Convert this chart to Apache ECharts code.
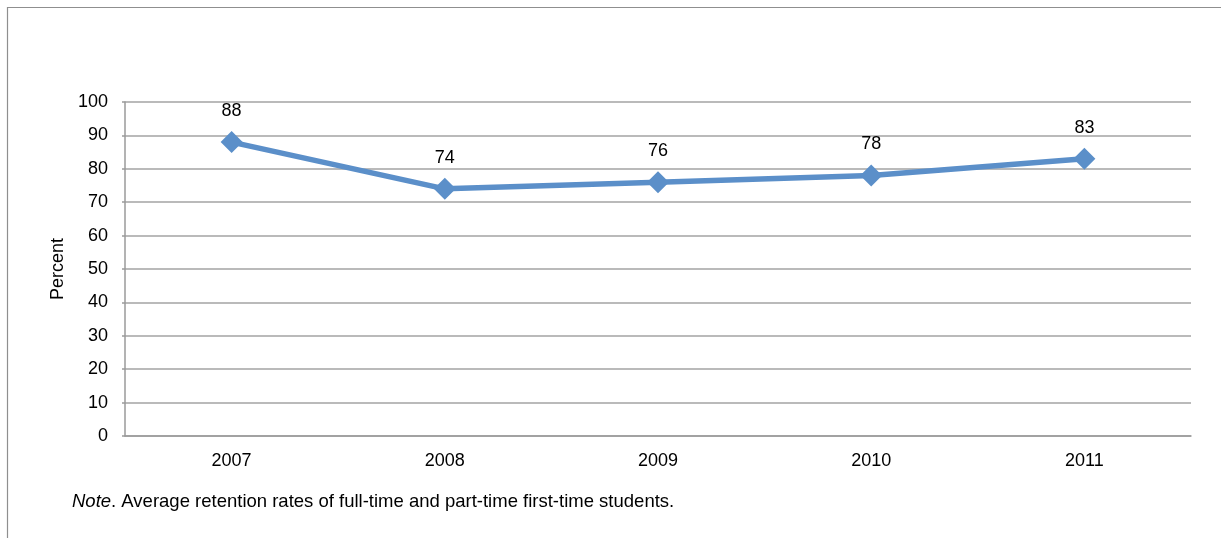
<!DOCTYPE html>
<html>
<head>
<meta charset="utf-8">
<style>
  html, body { margin: 0; padding: 0; background: #ffffff; }
  #chart { width: 1221px; height: 538px; }
</style>
<script src="https://cdn.jsdelivr.net/npm/echarts@6/dist/echarts.min.js"></script>
</head>
<body>
<div id="chart"></div>
<script>
// Retention rates by year
const years = ['2007', '2008', '2009', '2010', '2011'];
const retention = [88, 74, 76, 78, 83];
const yTicks = { min: 0, max: 100, interval: 10 };

const FONT = '"Liberation Sans", Arial, sans-serif';
const chart = echarts.init(document.getElementById('chart'), null, { renderer: 'canvas' });

chart.setOption({
  backgroundColor: '#ffffff',
  animation: false,
  grid: { left: 125, right: 30, top: 102, bottom: 102, containLabel: false },
  graphic: [
    {
      type: 'rect',
      shape: { x: 7.5, y: 7.5, width: 1400, height: 700 },
      style: { fill: 'none', stroke: '#8f8f8f', lineWidth: 1.2 },
      silent: true
    },
    {
      type: 'text',
      left: 72,
      top: 492,
      style: {
        rich: {
          i: { fontFamily: FONT, fontSize: 18.5, fontStyle: 'italic', fill: '#000' },
          n: { fontFamily: FONT, fontSize: 18.5, fill: '#000' }
        },
        text: '{i|Note}{n|. Average retention rates of full-time and part-time first-time students.}'
      }
    }
  ],
  xAxis: {
    type: 'category',
    data: years,
    boundaryGap: true,
    axisLine: { show: true, lineStyle: { color: '#9a9a9a', width: 1.5 } },
    axisTick: { show: false },
    axisLabel: { color: '#000', fontFamily: FONT, fontSize: 18, margin: 16 },
    splitLine: { show: false }
  },
  yAxis: {
    type: 'value',
    min: yTicks.min,
    max: yTicks.max,
    interval: yTicks.interval,
    name: 'Percent',
    nameLocation: 'middle',
    nameGap: 57,
    nameRotate: 90,
    nameTextStyle: { color: '#000', fontFamily: FONT, fontSize: 18 },
    axisLine: { show: true, lineStyle: { color: '#9a9a9a', width: 1.5 } },
    axisTick: { show: true, length: 3, lineStyle: { color: '#9a9a9a', width: 1.5 } },
    axisLabel: { color: '#000', fontFamily: FONT, fontSize: 18, margin: 17 },
    splitLine: { show: true, lineStyle: { color: '#a3a3a3', width: 1.5 } }
  },
  series: [
    {
      type: 'line',
      data: retention,
      symbol: 'diamond',
      symbolSize: 22,
      lineStyle: { color: '#5b8fc9', width: 5.5 },
      itemStyle: { color: '#5b8fc9' },
      label: {
        show: true,
        position: 'top',
        distance: 11,
        color: '#000',
        fontFamily: FONT,
        fontSize: 18
      }
    }
  ]
});
</script>
</body>
</html>
